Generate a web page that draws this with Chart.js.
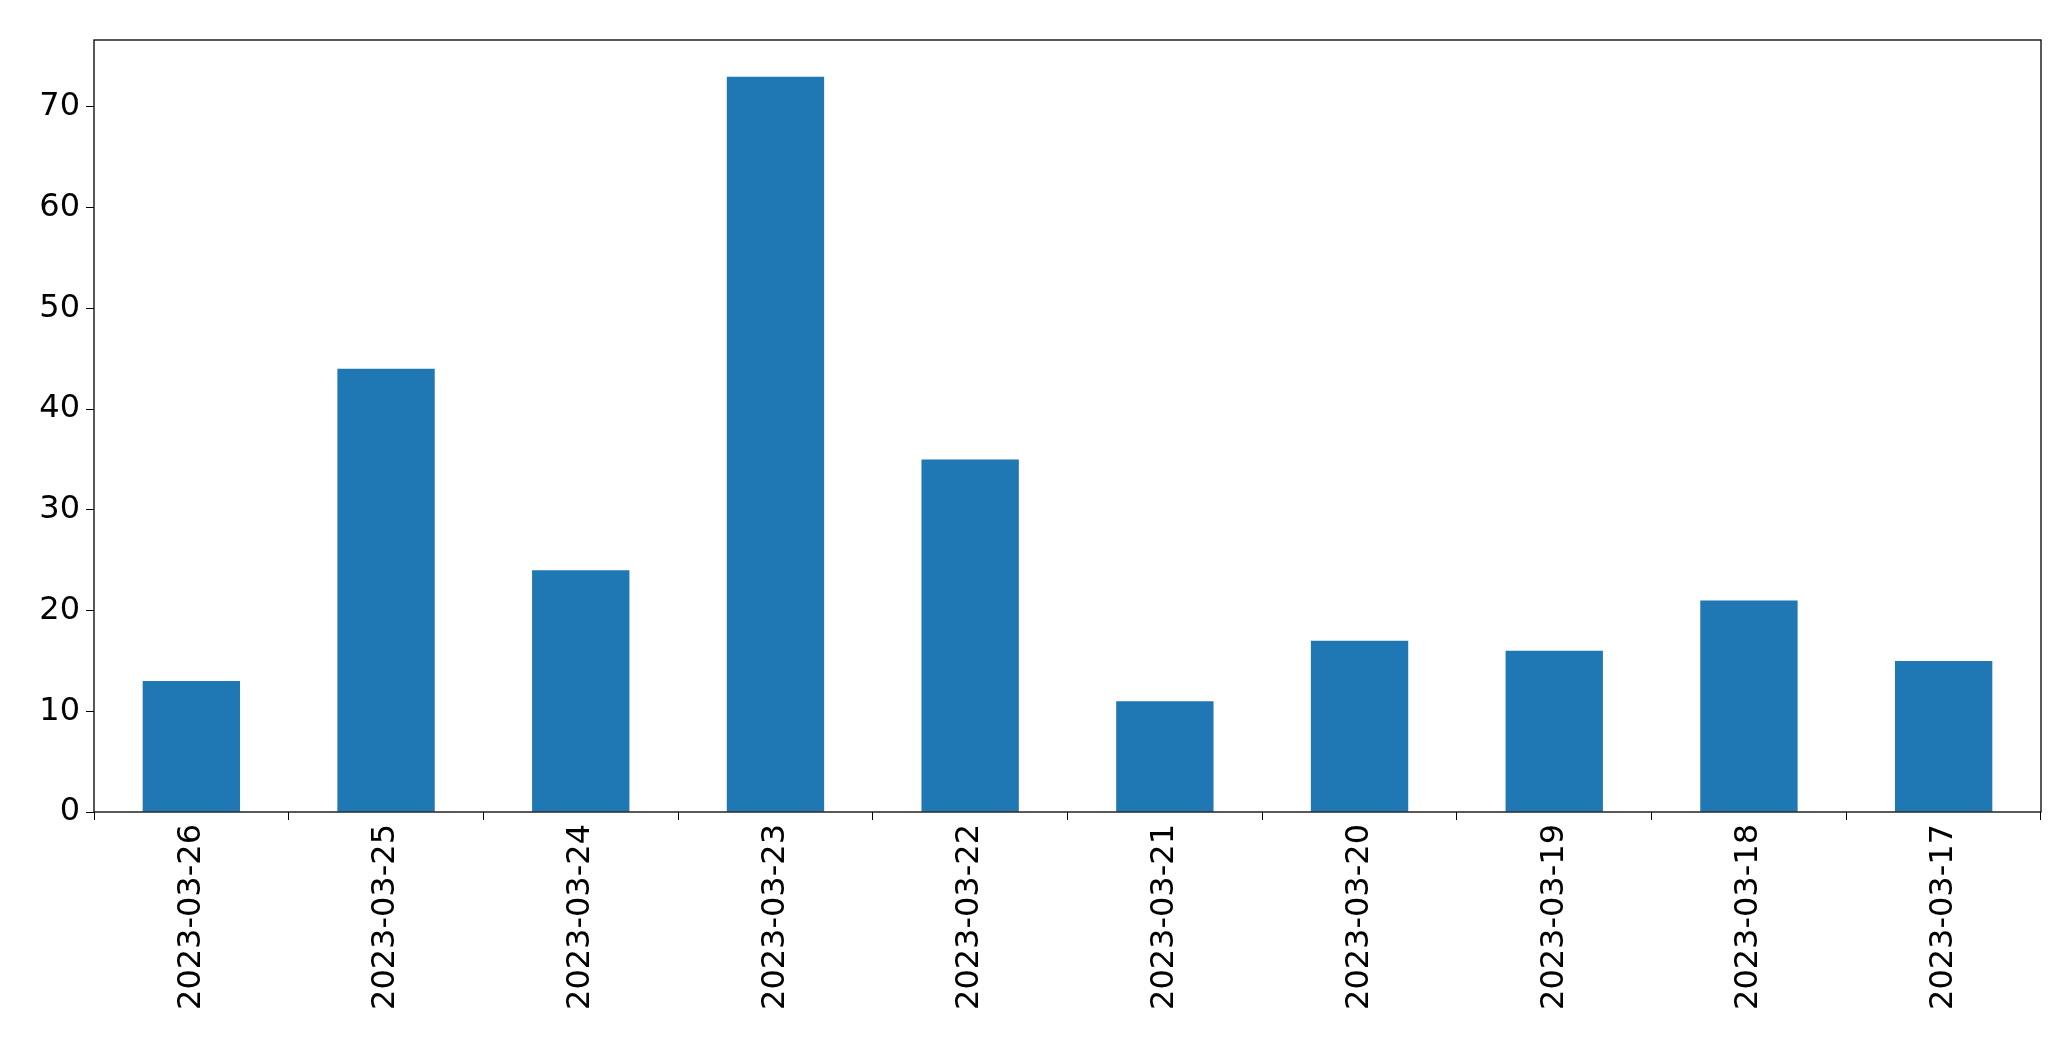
<!DOCTYPE html>
<html><head><meta charset="utf-8">
<script src="https://cdn.jsdelivr.net/npm/chart.js@4"></script>
<style>html,body{margin:0;padding:0;background:#fff}</style>
</head><body>
<canvas id="c" width="2071" height="1061" style="width:2071px;height:1061px"></canvas>
<script>
const categories = ["2023-03-26","2023-03-25","2023-03-24","2023-03-23","2023-03-22","2023-03-21","2023-03-20","2023-03-19","2023-03-18","2023-03-17"];
const values = [13, 44, 24, 73, 35, 11, 17, 16, 21, 15];
const yTicks = [0, 10, 20, 30, 40, 50, 60, 70];

const frame = {
  id: 'frame',
  afterDraw(chart) {
    const a = chart.chartArea, ctx = chart.ctx;
    ctx.save(); ctx.strokeStyle = '#000'; ctx.lineWidth = 1.3;
    ctx.strokeRect(a.left, a.top, a.right - a.left, a.bottom - a.top);
    ctx.restore();
  }
};
new Chart(document.getElementById('c'), {
  type: 'bar',
  data: { labels: categories, datasets: [{ data: values, backgroundColor: '#1f77b4', categoryPercentage: 1, barPercentage: 0.5 }] },
  options: {
    responsive: false, animation: false, devicePixelRatio: 1,
    layout: { padding: { top: 40, right: 30, left: 0, bottom: 0 } },
    plugins: { legend: { display: false }, tooltip: { enabled: false } },
    scales: {
      x: {
        grid: { display: true, drawOnChartArea: false, tickLength: 8, color: '#000' },
        border: { display: false },
        ticks: { color: '#000', font: { family: 'DejaVu Sans', size: 32 }, minRotation: 90, maxRotation: 90, padding: 4 },
        afterFit(s) { s.height = 249; }
      },
      y: {
        min: 0, max: 76.65,
        afterBuildTicks(s) { s.ticks = yTicks.map(v => ({ value: v })); },
        grid: { display: true, drawOnChartArea: false, tickLength: 8, color: '#000' },
        border: { display: false },
        ticks: { color: '#000', font: { family: 'DejaVu Sans', size: 32 }, padding: 6 },
        afterFit(s) { s.width = 94; }
      }
    }
  },
  plugins: [frame]
});
</script>
</body></html>
